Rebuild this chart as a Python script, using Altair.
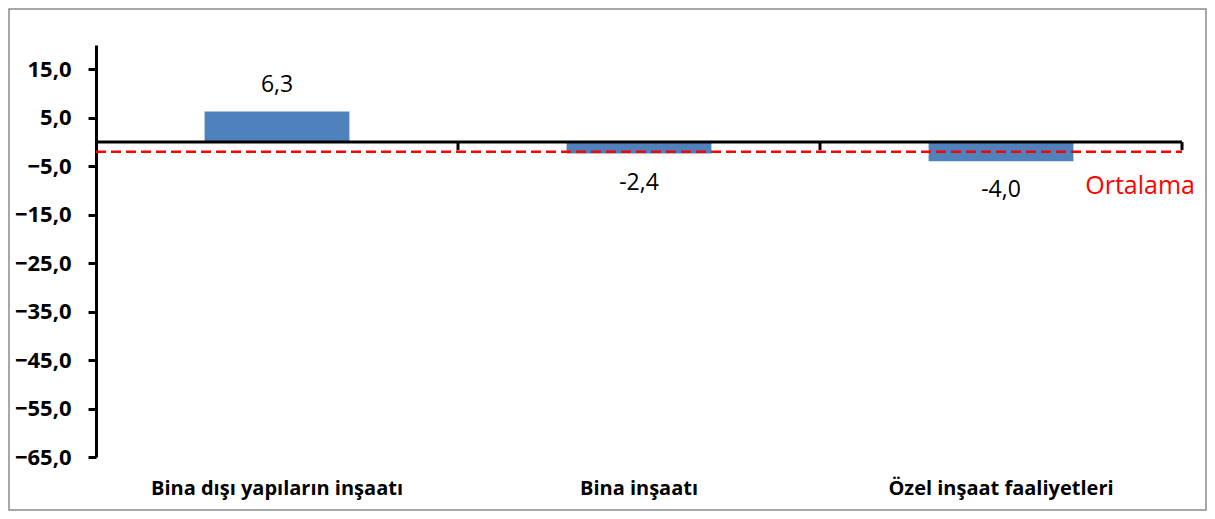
import altair as alt
import pandas as pd

categories = ["Bina dışı yapıların inşaatı", "Bina inşaatı", "Özel inşaat faaliyetleri"]
values = [6.3, -2.4, -4.0]
average = -2.0
average_label = "Ortalama"
y_ticks = [15, 5, -5, -15, -25, -35, -45, -55, -65]
boundaries = [1, 2, 3]

W, H = 1086, 412
PAD = {"left": 88, "top": 37, "right": 25, "bottom": 54}
FONT = "Open Sans"

df = pd.DataFrame({"cat": categories, "val": values})
df["label"] = [f"{v:.1f}".replace(".", ",") for v in values]

xband = alt.X(
    "cat:N", sort=categories,
    scale=alt.Scale(paddingInner=0.6, paddingOuter=0.3),
    axis=alt.Axis(title=None, labelAngle=0, domain=False, ticks=False, tickSize=0,
                  labelFont=FONT, labelFontWeight="bold", labelFontSize=20, labelLimit=0,
                  labelColor="black", labelPadding=21),
)
yq = alt.Y(
    "val:Q",
    scale=alt.Scale(domain=[-65, 20], nice=False, zero=False),
    axis=alt.Axis(values=y_ticks, labelExpr="replace(format(datum.value, '.1f'), '.', ',')",
                  title=None, grid=False, domainColor="black", domainWidth=3,
                  tickColor="black", tickWidth=3, tickSize=8,
                  labelFont=FONT, labelFontWeight="bold", labelFontSize=22,
                  labelPadding=17, labelColor="black"),
)

base = alt.Chart(df)
bars = base.mark_bar(color="#4F81BD").encode(x=xband, y=yq, y2=alt.datum(0))
pos_lbl = base.transform_filter("datum.val >= 0").mark_text(
    dy=-26, fontSize=23, font=FONT, color="black", baseline="middle"
).encode(x=xband, y=yq, text="label:N")
neg_lbl = base.transform_filter("datum.val < 0").mark_text(
    dy=29, fontSize=23, font=FONT, color="black", baseline="middle"
).encode(x=xband, y=yq, text="label:N")
band_group = alt.layer(bars, pos_lbl, neg_lbl)

xq_scale = alt.Scale(domain=[0, 3])
frame = alt.Chart(pd.DataFrame({"b": [0]})).mark_rect(
    fill="transparent", stroke="#8c8c8c", strokeWidth=1.5
).encode(
    x=alt.value(-PAD["left"] + 1), x2=alt.value(W + PAD["right"] - 1),
    y=alt.value(-PAD["top"] + 1), y2=alt.value(H + PAD["bottom"] - 1),
)
zero_line = alt.Chart(pd.DataFrame({"b": [0, 3]})).mark_line(color="black", strokeWidth=3).encode(
    x=alt.X("b:Q", scale=xq_scale, axis=None), y=alt.datum(0)
)
tick_df = pd.DataFrame({"b": boundaries})
xticks = alt.Chart(tick_df).mark_rule(color="black", strokeWidth=3).encode(
    x=alt.X("b:Q", scale=xq_scale, axis=None), y=alt.datum(0), y2=alt.datum(-1.7)
)
avg_line = alt.Chart(pd.DataFrame({"b": [0, 3], "v": [average, average]})).mark_line(
    color="#FF0000", strokeWidth=2.5, strokeDash=[10, 5]
).encode(x=alt.X("b:Q", scale=xq_scale, axis=None), y=alt.Y("v:Q"))
avg_text = alt.Chart(pd.DataFrame({"b": [3], "v": [average], "t": [average_label]})).mark_text(
    align="right", dx=13, dy=34, fontSize=25, font=FONT, color="#FF0000", baseline="middle"
).encode(x=alt.X("b:Q", scale=xq_scale, axis=None), y=alt.Y("v:Q"), text="t:N")
quant_group = alt.layer(frame, zero_line, xticks, avg_line, avg_text)

chart = alt.layer(band_group, quant_group).resolve_scale(x="independent").properties(
    width=W, height=H,
    padding=PAD,
    autosize=alt.AutoSizeParams(type="none"),
    background="white",
).configure_view(strokeWidth=0)

chart.save("out.html", embed_options={"renderer": "svg", "actions": False})
